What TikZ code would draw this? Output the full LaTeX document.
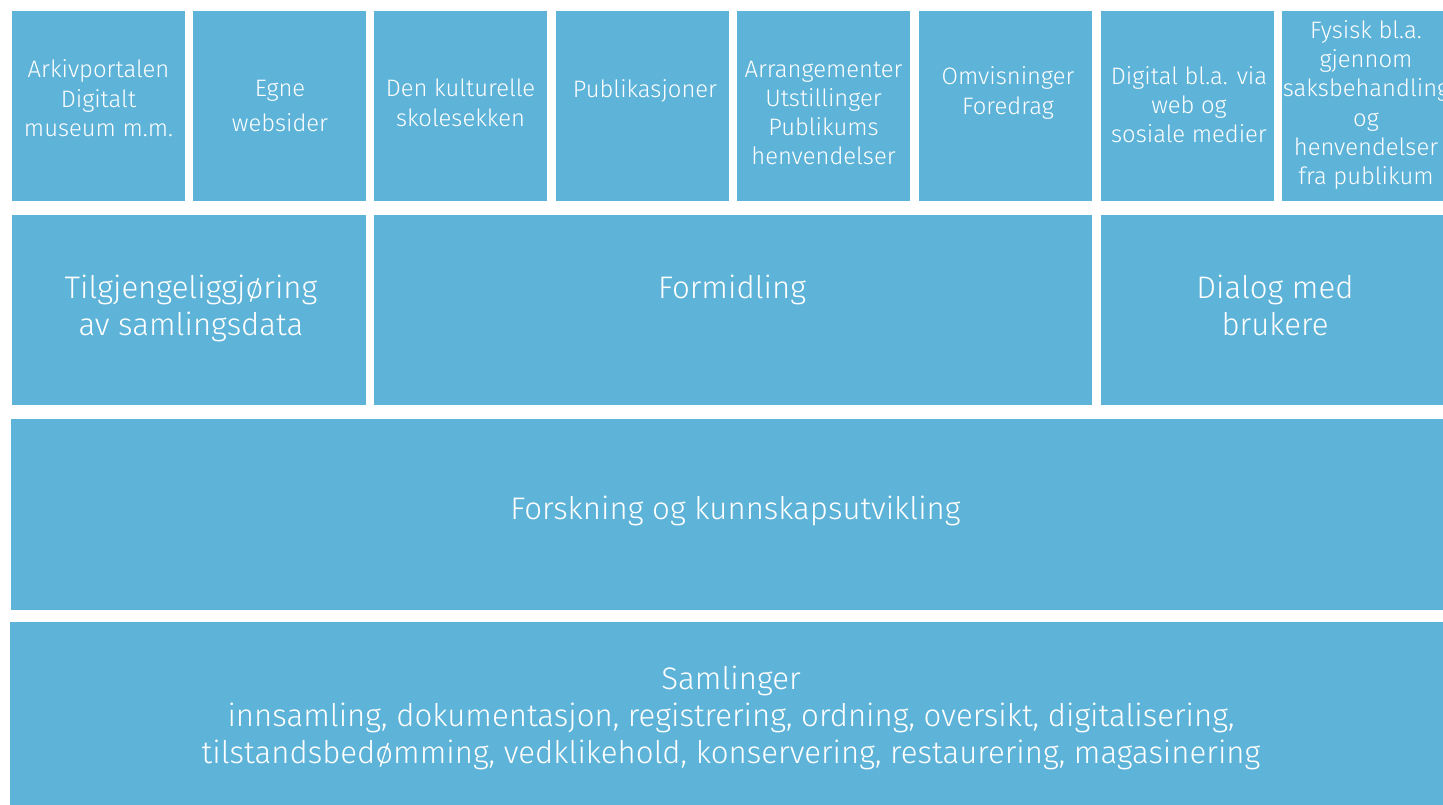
\documentclass[tikz,border=0pt]{standalone}
\usepackage{fontspec}
\setmainfont{Fira Sans}[UprightFont={* Light}]
\definecolor{boxblue}{HTML}{5EB3D8}
\begin{document}
\begin{tikzpicture}[x=1pt,y=-1pt,
  blk/.style={fill=boxblue, draw=none, inner sep=0pt, outer sep=0pt, anchor=north west},
  topbox/.style={blk, minimum width=173pt, minimum height=190pt},
  small/.style={text=white, align=center, inner sep=0pt, font=\fontsize{23.8}{29.3}\selectfont},
  big/.style={text=white, align=center, inner sep=0pt, font=\fontsize{31.2}{37}\selectfont}]
\useasboundingbox (0,0) rectangle (1443,805);
\clip (0,0) rectangle (1443,805);
% top row
\node[topbox] (b1) at (12,11) {};
\node[topbox] (b2) at (193,11) {};
\node[topbox] (b3) at (374,11) {};
\node[topbox] (b4) at (556,11) {};
\node[topbox] (b5) at (737,11) {};
\node[topbox] (b6) at (919,11) {};
\node[topbox] (b7) at (1101,11) {};
\node[topbox] (b8) at (1282,11) {};
% second row
\node[blk, minimum width=354pt, minimum height=190pt] (m1) at (12,215) {};
\node[blk, minimum width=718pt, minimum height=190pt] (m2) at (374,215) {};
\node[blk, minimum width=348pt, minimum height=190pt] (m3) at (1101,215) {};
% third and fourth rows
\node[blk, minimum width=1449pt, minimum height=191pt] (r3) at (11,419) {};
\node[blk, minimum width=1442pt, minimum height=200pt] (r4) at (10,622) {};
% texts
\node[small] (t1) at (98.5,101.2) {\strut Arkivportalen\\Digitalt\\museum m.m.\strut};
\node[small, font=\fontsize{23.8}{35}\selectfont] (t2) at (280,107.5) {\strut Egne\\websider\strut};
\node[small] (t3) at (460.5,105.7) {\strut Den kulturelle\\skolesekken\strut};
\node[small] (t4) at (645,91.2) {\strut Publikasjoner\strut};
\node[small] (t5) at (823.5,115.1) {\strut Arrangementer\\Utstillinger\\Publikums\\henvendelser\strut};
\node[small] (t6) at (1008,93.7) {\strut Omvisninger\\Foredrag\strut};
\node[small] (t7) at (1189,107.6) {\strut Digital bl.a. via\\web og\\sosiale medier\strut};
\node[small] (t8) at (1366,105.6) {\strut Fysisk bl.a.\\gjennom\\saksbehandling\\og\\henvendelser\\fra publikum\strut};
\node[big] (u1) at (191,309.1) {\strut Tilgjengeliggjøring\\av samlingsdata\strut};
\node[big] (u2) at (732,290.6) {\strut Formidling\strut};
\node[big] (u3) at (1275,309.1) {\strut Dialog med\\brukere\strut};
\node[big] (v1) at (735.5,511.6) {\strut Forskning og kunnskapsutvikling\strut};
\node[big] (w1) at (731,718.6) {\strut Samlinger\\innsamling, dokumentasjon, registrering, ordning, oversikt, digitalisering,\\tilstandsbedømming, vedklikehold, konservering, restaurering, magasinering\strut};
\end{tikzpicture}
\end{document}
